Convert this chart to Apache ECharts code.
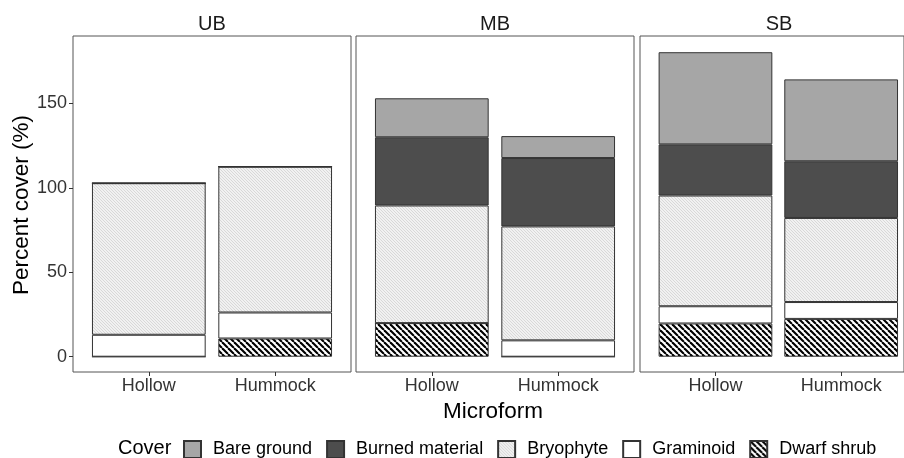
<!DOCTYPE html>
<html>
<head>
<meta charset="utf-8">
<script src="https://cdn.jsdelivr.net/npm/echarts@6/dist/echarts.min.js"></script>
<style>
html,body{margin:0;padding:0;background:#fff;}
#chart{width:904px;height:458px;}
</style>
</head>
<body>
<div id="chart"></div>
<script>
// ---- Data ----
const panels = ['UB', 'MB', 'SB'];
const microforms = ['Hollow', 'Hummock'];
const legendOrder = ['Bare ground', 'Burned material', 'Bryophyte', 'Graminoid', 'Dwarf shrub'];
const yTicks = [0, 50, 100, 150];
// values per panel: [Hollow, Hummock]
const dwarfShrub = [[0, 10.8], [19.9, 0], [19.7, 22.4]];
const graminoid  = [[13.0, 15.4], [0, 9.7], [10.2, 10.0]];
const bryophyte  = [[89.8, 86.4], [69.7, 67.5], [65.6, 49.8]];
const burnedMaterial = [[0, 0], [40.4, 40.5], [30.3, 33.6]];
const bareGround = [[0, 0], [23.1, 13.0], [54.6, 48.5]];

// ---- Patterns ----
function makeShrubPattern() {
  const s = 6, c = document.createElement('canvas');
  c.width = s; c.height = s;
  const g = c.getContext('2d');
  g.fillStyle = '#ffffff'; g.fillRect(0, 0, s, s);
  g.strokeStyle = '#000000'; g.lineWidth = 2.1;
  for (let k = -1; k <= 1; k++) {
    g.beginPath(); g.moveTo(k * s, 0); g.lineTo(k * s + s, s); g.stroke();
  }
  return c;
}
function makeBryoPattern() {
  const s = 3, c = document.createElement('canvas');
  c.width = s; c.height = s;
  const g = c.getContext('2d');
  g.fillStyle = '#f1f1f1'; g.fillRect(0, 0, s, s);
  g.strokeStyle = '#d2d2d2'; g.lineWidth = 0.8;
  for (let k = -1; k <= 1; k++) {
    g.beginPath(); g.moveTo(k * s, 0); g.lineTo(k * s + s, s); g.stroke();
  }
  return c;
}
const shrubFill = { image: makeShrubPattern(), repeat: 'repeat' };
const bryoFill = { image: makeBryoPattern(), repeat: 'repeat' };

const stackDefs = [
  { name: 'Dwarf shrub', values: dwarfShrub, color: shrubFill },
  { name: 'Graminoid', values: graminoid, color: '#ffffff' },
  { name: 'Bryophyte', values: bryophyte, color: bryoFill },
  { name: 'Burned material', values: burnedMaterial, color: '#4d4d4d' },
  { name: 'Bare ground', values: bareGround, color: '#a6a6a6' }
];

// ---- Layout ----
const FONT = 'Liberation Sans, Arial, sans-serif';
const panelLeft = [73, 356, 640];
const panelW = 278, panelTop = 36, panelH = 336;
const yMin = -9.05, yMax = 190;
// ggplot discrete scale: categories at 1,2 within [0.4, 2.6]
const unit = panelW / 2.2;
const barW = unit * 0.9;
const innerOffset = 0.6 * unit - unit / 2; // category band grid inset
const innerW = 2 * unit;

const grids = [], xAxes = [], yAxes = [], series = [];
panels.forEach((p, i) => {
  // frame grid (panel border + y axis)
  const frame = { left: panelLeft[i], top: panelTop, height: panelH,
    show: true, borderColor: '#555555', borderWidth: 1, backgroundColor: 'transparent' };
  if (panelLeft[i] + panelW > 904) frame.right = 904 - panelLeft[i] - panelW; else frame.width = panelW;
  grids.push(frame);
  xAxes.push({ type: 'value', gridIndex: 2 * i, min: 0, max: 1, show: false });
  yAxes.push({
    type: 'value', gridIndex: 2 * i, min: yMin, max: yMax,
    axisLine: { show: false, onZero: false },
    splitLine: { show: false },
    axisTick: { show: i === 0, customValues: yTicks, length: 4, lineStyle: { color: '#333333', width: 1 } },
    axisLabel: { show: i === 0, customValues: yTicks, margin: 6, fontSize: 18, color: '#333333', fontFamily: FONT }
  });
  // bar grid (category axis)
  grids.push({ left: panelLeft[i] + innerOffset, top: panelTop, width: innerW, height: panelH, show: false });
  xAxes.push({
    type: 'category', gridIndex: 2 * i + 1, data: microforms, boundaryGap: true,
    axisLine: { show: false, onZero: false },
    splitLine: { show: false },
    axisTick: { show: true, alignWithLabel: true, length: 4, lineStyle: { color: '#333333', width: 1 } },
    axisLabel: { margin: 5, fontSize: 18, color: '#333333', fontFamily: FONT }
  });
  yAxes.push({ type: 'value', gridIndex: 2 * i + 1, min: yMin, max: yMax, show: false, splitLine: { show: false } });
  stackDefs.forEach(def => {
    series.push({
      type: 'bar', name: def.name, xAxisIndex: 2 * i + 1, yAxisIndex: 2 * i + 1, stack: 'panel' + i,
      barWidth: barW,
      data: def.values[i],
      itemStyle: { color: def.color, borderColor: '#333333', borderWidth: 1 },
      emphasis: { disabled: true },
      animation: false
    });
  });
});

const graphics = [];
panels.forEach((p, i) => {
  graphics.push({ type: 'text', x: panelLeft[i] + panelW / 2, y: 24,
    style: { text: p, align: 'center', verticalAlign: 'middle', fontSize: 20, fontFamily: FONT, fill: '#1a1a1a' } });
});
graphics.push({ type: 'text', x: 493, y: 412,
  style: { text: 'Microform', align: 'center', verticalAlign: 'middle', fontSize: 22.5, fontFamily: FONT, fill: '#000' } });
graphics.push({ type: 'text', x: 22, y: 205, rotation: Math.PI / 2,
  style: { text: 'Percent cover (%)', align: 'center', verticalAlign: 'middle', fontSize: 22.5, fontFamily: FONT, fill: '#000' } });
graphics.push({ type: 'text', x: 118, y: 448,
  style: { text: 'Cover', align: 'left', verticalAlign: 'middle', fontSize: 20, fontFamily: FONT, fill: '#000' } });

const chart = echarts.init(document.getElementById('chart'), null, { renderer: 'canvas' });
chart.setOption({
  animation: false,
  backgroundColor: '#ffffff',
  grid: grids,
  xAxis: xAxes,
  yAxis: yAxes,
  series: series,
  graphic: graphics,
  legend: {
    data: legendOrder, left: 183, top: 440, padding: 0, icon: 'rect',
    itemWidth: 17, itemHeight: 17, itemGap: 14, selectedMode: false,
    textStyle: { fontSize: 18, color: '#000', fontFamily: FONT, padding: [0, 0, 0, 7] }
  }
});
</script>
</body>
</html>
